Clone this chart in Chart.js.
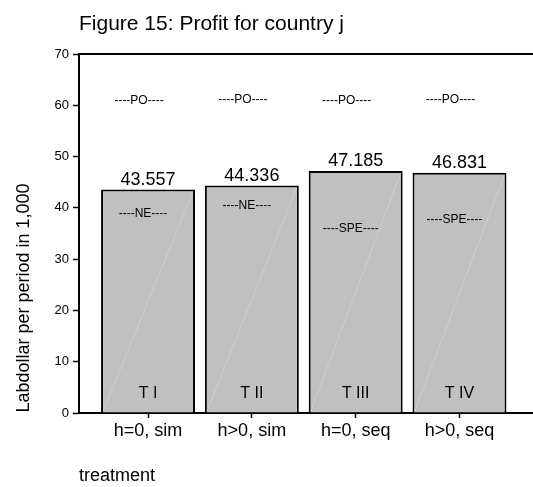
<!DOCTYPE html>
<html>
<head>
<meta charset="utf-8">
<script src="https://cdn.jsdelivr.net/npm/chart.js@4.4.1/dist/chart.umd.min.js"></script>
<style>
  html, body { margin: 0; padding: 0; background: #fff; }
  #wrap { width: 533px; height: 487px; }
</style>
</head>
<body>
<div id="wrap"><canvas id="profitChart" width="533" height="487"></canvas></div>
<script>
// data
const categories = ['h=0, sim', 'h>0, sim', 'h=0, seq', 'h>0, seq'];
const treatments = ['T I', 'T II', 'T III', 'T IV'];
const profits = [43.557, 44.336, 47.185, 46.831];
const poLevels = [60.8, 61.1, 60.8, 61.1];
const predLabels = ['----NE----', '----NE----', '----SPE----', '----SPE----'];
const predLevels = [38.9, 40.4, 36.0, 37.7];
const yTicks = [0, 10, 20, 30, 40, 50, 60, 70];

const FONT = '"Liberation Sans", Arial, sans-serif';
Chart.defaults.font.family = FONT;
Chart.defaults.color = '#000';

// texts + diagonal stripe on each bar
const figureText = {
    id: 'figureText',
    afterDatasetsDraw(chart) {
        const ctx = chart.ctx;
        const area = chart.chartArea;
        const ys = chart.scales.y;
        const bars = chart.getDatasetMeta(0).data;
        ctx.save();

        bars.forEach((bar, i) => {
            const p = bar.getProps(['x', 'y', 'base', 'width'], true);
            const left = p.x - p.width / 2 + 2;
            const right = p.x + p.width / 2 - 2;

            // faint white diagonal
            ctx.strokeStyle = 'rgba(255,255,255,0.35)';
            ctx.lineWidth = 0.7;
            ctx.beginPath();
            ctx.moveTo(left, p.base - 1);
            ctx.lineTo(right, p.y + 2);
            ctx.stroke();

            ctx.fillStyle = '#000';
            ctx.textAlign = 'center';

            // value above bar
            ctx.font = '18px ' + FONT;
            ctx.textBaseline = 'alphabetic';
            ctx.fillText(profits[i].toFixed(3), p.x, p.y - 5);

            // treatment name inside bar
            ctx.font = '16px ' + FONT;
            ctx.fillText(treatments[i], p.x, p.base - 15);

            // benchmark levels
            ctx.font = '12px ' + FONT;
            ctx.textBaseline = 'middle';
            ctx.fillText('----PO----', p.x - 9, ys.getPixelForValue(poLevels[i]));
            ctx.fillText(predLabels[i], p.x - 5, ys.getPixelForValue(predLevels[i]));
        });

        // top frame line
        ctx.strokeStyle = '#000';
        ctx.lineWidth = 2;
        ctx.beginPath();
        ctx.moveTo(area.left, area.top);
        ctx.lineTo(area.right, area.top);
        ctx.stroke();
        ctx.restore();
    },
    afterDraw(chart) {
        const ctx = chart.ctx;
        const area = chart.chartArea;
        ctx.save();
        ctx.fillStyle = '#000';

        ctx.font = '21px ' + FONT;
        ctx.textAlign = 'left';
        ctx.textBaseline = 'alphabetic';
        ctx.fillText('Figure 15: Profit for country j', area.left, 30);

        ctx.font = '18px ' + FONT;
        ctx.textBaseline = 'middle';
        ctx.fillText('treatment', area.left, 476);

        // y axis title
        ctx.translate(24, area.bottom - 115);
        ctx.rotate(-Math.PI / 2);
        ctx.textAlign = 'center';
        ctx.fillText('Labdollar per period in 1,000', 0, 0);
        ctx.restore();
    }
};

const ctx = document.getElementById('profitChart').getContext('2d');
new Chart(ctx, {
    type: 'bar',
    data: {
        datasets: [{
            label: 'Profit',
            data: profits.map((v, i) => ({ x: i + 1, y: v })),
            backgroundColor: '#c0c0c0',
            borderColor: '#000',
            borderWidth: 2,
            borderSkipped: 'start',
            categoryPercentage: 1,
            barPercentage: 0.905
        }]
    },
    options: {
        responsive: false,
        animation: false,
        layout: { padding: { top: 54, left: 0, right: 0, bottom: 0 } },
        plugins: {
            legend: { display: false },
            tooltip: { enabled: false },
            title: { display: false }
        },
        scales: {
            x: {
                type: 'linear',
                min: 0.335,
                max: 4.708,
                offset: false,
                afterFit: (scale) => { scale.height = 74; },
                afterBuildTicks: (scale) => {
                    scale.ticks = categories.map((c, i) => ({ value: i + 1 }));
                },
                ticks: {
                    callback: (v) => categories[Math.round(v) - 1],
                    font: { size: 18 },
                    padding: 2,
                    maxRotation: 0,
                    autoSkip: false
                },
                grid: { offset: false, drawOnChartArea: false, tickLength: 5, tickColor: '#000', tickWidth: 1.5 },
                border: { color: '#000', width: 2 }
            },
            y: {
                min: 0,
                max: 70,
                afterFit: (scale) => { scale.width = 79; },
                afterBuildTicks: (scale) => {
                    scale.ticks = yTicks.map(v => ({ value: v }));
                },
                ticks: { font: { size: 13 }, padding: 4 },
                grid: { drawOnChartArea: false, tickLength: 6, tickColor: '#000', tickWidth: 1.5 },
                border: { color: '#000', width: 2 }
            }
        }
    },
    plugins: [figureText]
});
</script>
</body>
</html>
